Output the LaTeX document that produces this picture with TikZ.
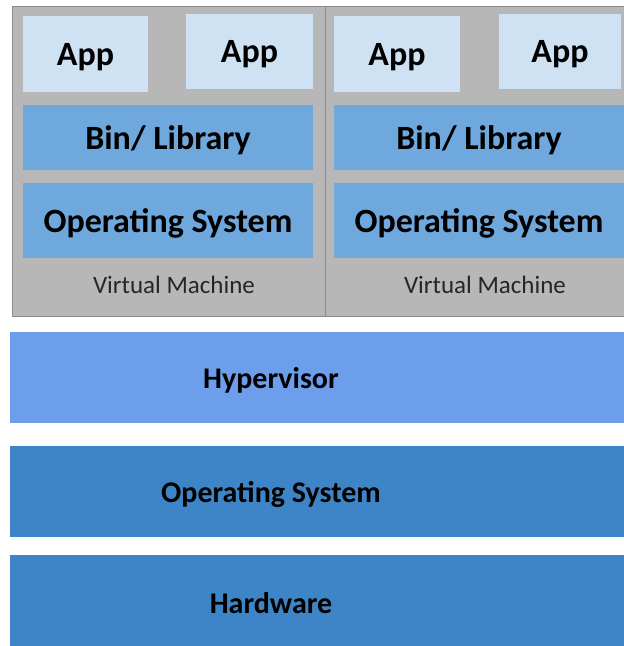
\documentclass[tikz,border=0pt]{standalone}
\usepackage{fontspec}
\setmainfont{Carlito}
\definecolor{vmgray}{HTML}{B7B7B7}
\definecolor{vmedge}{HTML}{8C8C8C}
\definecolor{applight}{HTML}{CFE2F3}
\definecolor{midblue}{HTML}{6FA8DC}
\definecolor{hypblue}{HTML}{6D9EEB}
\definecolor{darkblue}{HTML}{3D85C6}
\tikzset{
  layer/.style={anchor=north west, inner sep=0pt, outer sep=0pt, text depth=0pt},
  vmbox/.style={anchor=north west, inner sep=0pt, outer sep=0pt, fill=vmgray, draw=vmedge, line width=0.8pt},
  applayer/.style={layer, fill=applight, font=\bfseries\fontsize{34}{35}\selectfont},
  vmlayer/.style={layer, fill=midblue, font=\bfseries\fontsize{34}{35}\selectfont},
  hostlayer/.style={layer, font=\bfseries\fontsize{30}{31}\selectfont},
  vmlabel/.style={inner sep=0pt, font=\fontsize{25}{26}\selectfont, text=black!85}
}
\begin{document}
\begin{tikzpicture}[x=1pt,y=-1pt]
\useasboundingbox (0,0) rectangle (624,646);
% virtual machines
\node[vmbox, minimum width=313pt, minimum height=310pt] (vm1) at (12,6) {};
\node[vmbox, minimum width=320pt, minimum height=310pt] (vm2) at (325,6) {};
% left VM
\node[applayer, minimum width=125pt, minimum height=76pt] (app1) at (23,16) {App};
\node[applayer, minimum width=127pt, minimum height=75pt] (app2) at (186,14) {App};
\node[vmlayer, minimum width=290pt, minimum height=65pt] (bin1) at (23,105) {Bin/ Library};
\node[vmlayer, minimum width=290pt, minimum height=75pt] (os1) at (23,183) {Operating System};
\node[vmlabel] (lab1) at (174,285) {Virtual Machine};
% right VM
\node[applayer, minimum width=126pt, minimum height=76pt] (app3) at (334,16) {App};
\node[applayer, minimum width=122pt, minimum height=75pt] (app4) at (499,14) {App};
\node[vmlayer, minimum width=290pt, minimum height=65pt] (bin2) at (334,105) {Bin/ Library};
\node[vmlayer, minimum width=290pt, minimum height=75pt] (os2) at (334,183) {Operating System};
\node[vmlabel] (lab2) at (485,285) {Virtual Machine};
% host layers
\node[hostlayer, fill=hypblue, minimum width=625pt, minimum height=91pt] (hyp) at (10,332) {\hspace*{-103pt}Hypervisor};
\node[hostlayer, fill=darkblue, minimum width=625pt, minimum height=91pt] (hos) at (10,446) {\hspace*{-103pt}Operating System};
\node[hostlayer, fill=darkblue, minimum width=625pt, minimum height=95pt] (hw) at (10,555) {\hspace*{-103pt}Hardware};
\end{tikzpicture}
\end{document}
